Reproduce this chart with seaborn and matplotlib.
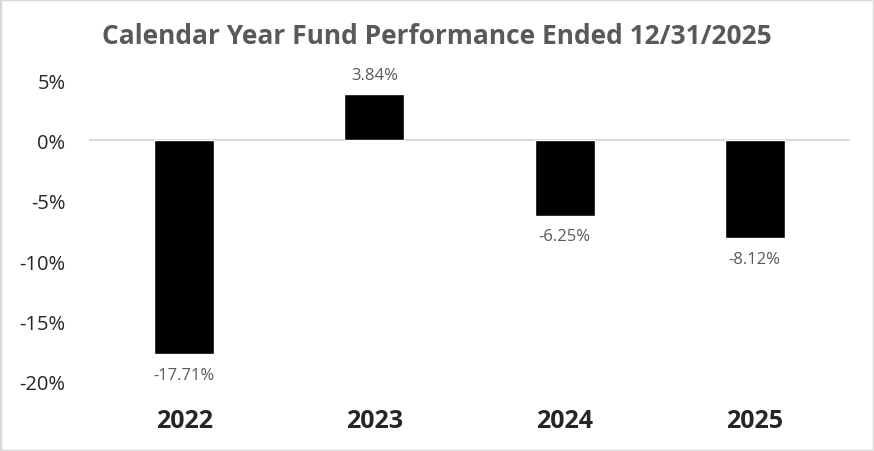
import matplotlib.pyplot as plt
import matplotlib.patches as mpatches
import pandas as pd
import seaborn as sns

years = ['2022', '2023', '2024', '2025']
returns = [-17.71, 3.84, -6.25, -8.12]
y_ticks = [5, 0, -5, -10, -15, -20]

sns.set_style('white')
plt.rcParams['font.family'] = ['Open Sans', 'DejaVu Sans']

df = pd.DataFrame({'year': years, 'ret': returns})

fig = plt.figure(figsize=(8.74, 4.52), dpi=100)
ax = fig.add_axes([0.102, 0.1527, 0.8705, 0.668])
sns.barplot(data=df, x='year', y='ret', color='black', width=0.315,
            saturation=1, ax=ax)

ax.set_ylim(-20, 5)
ax.set_yticks(y_ticks)
ax.set_yticklabels([f'{t}%' for t in y_ticks], fontsize=14.5)
ax.tick_params(axis='y', length=0, pad=17)
ax.tick_params(axis='x', length=0, pad=19, labelsize=18)
for lbl in ax.get_xticklabels():
    lbl.set_fontweight('bold')
ax.axhline(0, color='#d9d9d9', lw=1.5, zorder=0)
sns.despine(ax=ax, left=True, bottom=True)
ax.set_xlabel('')
ax.set_ylabel('')

for p, v in zip(ax.patches, returns):
    x = p.get_x() + p.get_width() / 2
    off = 8 if v > 0 else -9
    ax.annotate(f'{v:.2f}%', xy=(x, v), xytext=(0, off), textcoords='offset points',
                ha='center', va='bottom' if v > 0 else 'top', fontsize=12, color='#595959')

fig.text(0.5, 0.92, 'Calendar Year Fund Performance Ended 12/31/2025', ha='center', va='center',
         fontsize=19, fontweight='bold', color='#595959')

fig.patches.append(mpatches.Rectangle((0, 0), 1, 1, transform=fig.transFigure, fill=False,
                                      edgecolor='#d9d9d9', lw=2.5))

fig.savefig('out.png', dpi=100)
